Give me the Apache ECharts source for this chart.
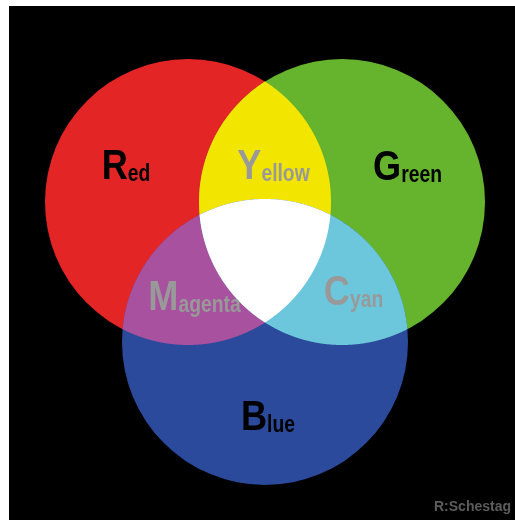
<!DOCTYPE html>
<html>
<head>
<meta charset="utf-8">
<script src="https://cdn.jsdelivr.net/npm/echarts@6/dist/echarts.min.js"></script>
<style>
html,body{margin:0;padding:0;background:#fff;}
#chart{width:515px;height:520px;}
</style>
</head>
<body>
<div id="chart"></div>
<script>
// ---- data ----
const circleNames = ['Red', 'Green', 'Blue'];
const circleX = [188, 342, 265];
const circleY = [202, 202, 342];
const circleR = [143, 143, 143];

const regionSets = [[0], [1], [2], [0, 1], [0, 2], [1, 2], [0, 1, 2]];
const regionNames = ['Red', 'Green', 'Blue', 'Yellow', 'Magenta', 'Cyan', 'White'];

const labelTexts = ['Red', 'Yellow', 'Green', 'Magenta', 'Cyan', 'Blue'];
const labelX = [126, 273.5, 407.5, 194.5, 353.5, 268];
const labelY = [182, 182, 183, 313, 308, 433];

const creditText = 'R:Schestag';

// ---- styles ----
const regionColors = {
  Red: '#E42526', Green: '#66B42E', Blue: '#2B4A9C',
  Yellow: '#F2E500', Magenta: '#A8519F', Cyan: '#6CC7DC', White: '#FFFFFF'
};
const labelColors = {
  Red: '#000000', Green: '#000000', Blue: '#000000',
  Yellow: '#999999', Magenta: '#999999', Cyan: '#999999'
};
const FONT = "'Liberation Sans', Arial, Helvetica, sans-serif";
const BIG = 43, SMALL = 23, CONDENSE = 0.84, BASE_SHIFT = 7;

function regionShape(set, api) {
  const cs = set.map(i => {
    const c = api.coord([circleX[i], circleY[i]]);
    const r = api.size([circleR[i], 0])[0];
    return { x: c[0], y: c[1], r: r };
  });
  if (cs.length === 1) {
    return { type: 'circle', shape: { cx: cs[0].x, cy: cs[0].y, r: cs[0].r } };
  }
  const pts = [];
  const N = 2000;
  cs.forEach((c, a) => {
    for (let k = 0; k < N; k++) {
      const t = 2 * Math.PI * k / N;
      const px = c.x + c.r * Math.cos(t), py = c.y + c.r * Math.sin(t);
      if (cs.every((o, b) => b === a || Math.hypot(px - o.x, py - o.y) <= o.r + 0.01)) {
        pts.push([px, py]);
      }
    }
  });
  let mx = 0, my = 0;
  pts.forEach(p => { mx += p[0]; my += p[1]; });
  mx /= pts.length; my /= pts.length;
  pts.sort((p, q) => Math.atan2(p[1] - my, p[0] - mx) - Math.atan2(q[1] - my, q[0] - mx));
  return { type: 'polygon', shape: { points: pts } };
}

const chart = echarts.init(document.getElementById('chart'), null, { renderer: 'canvas' });

chart.setOption({
  animation: false,
  backgroundColor: '#ffffff',
  grid: { left: 9, top: 6, right: 0, bottom: 0, show: true, backgroundColor: '#000000', borderWidth: 0 },
  xAxis: { type: 'value', min: 9, max: 515, show: false },
  yAxis: { type: 'value', min: 6, max: 520, inverse: true, show: false },
  series: [
    {
      type: 'custom',
      coordinateSystem: 'cartesian2d',
      data: regionSets.map((s, i) => ({ name: regionNames[i], value: [i] })),
      renderItem: function (params, api) {
        const idx = api.value(0);
        const el = regionShape(regionSets[idx], api);
        el.style = { fill: regionColors[regionNames[idx]], stroke: null };
        return el;
      },
      silent: true,
      z: 1
    },
    {
      type: 'custom',
      coordinateSystem: 'cartesian2d',
      silent: true,
      z: 5,
      data: labelTexts.map((t, i) => ({ name: t, value: [labelX[i], labelY[i], i] })),
      renderItem: function (params, api) {
        const p = api.coord([api.value(0), api.value(1)]);
        const t = labelTexts[api.value(2)];
        const col = labelColors[t];
        return {
          type: 'text',
          x: p[0],
          y: p[1] + BASE_SHIFT,
          scaleX: CONDENSE,
          style: {
            text: '{b|' + t.charAt(0) + '}{s|' + t.slice(1) + '}',
            align: 'center', textAlign: 'center',
            verticalAlign: 'bottom', textVerticalAlign: 'bottom',
            fill: col, textFill: col,
            rich: {
              b: { fontSize: BIG, fontWeight: 'bold', fontFamily: FONT, fill: col, textFill: col, verticalAlign: 'bottom', textVerticalAlign: 'bottom' },
              s: { fontSize: SMALL, fontWeight: 'bold', fontFamily: FONT, fill: col, textFill: col, verticalAlign: 'bottom', textVerticalAlign: 'bottom', padding: [0, 0, 3, 0] }
            }
          }
        };
      }
    }
  ],
  graphic: [
    {
      type: 'text',
      right: 4,
      bottom: 6,
      z: 10,
      style: {
        text: creditText,
        font: "bold 14px 'Liberation Sans', Arial, sans-serif",
        fill: '#5c5c5c'
      }
    }
  ]
});
</script>
</body>
</html>
